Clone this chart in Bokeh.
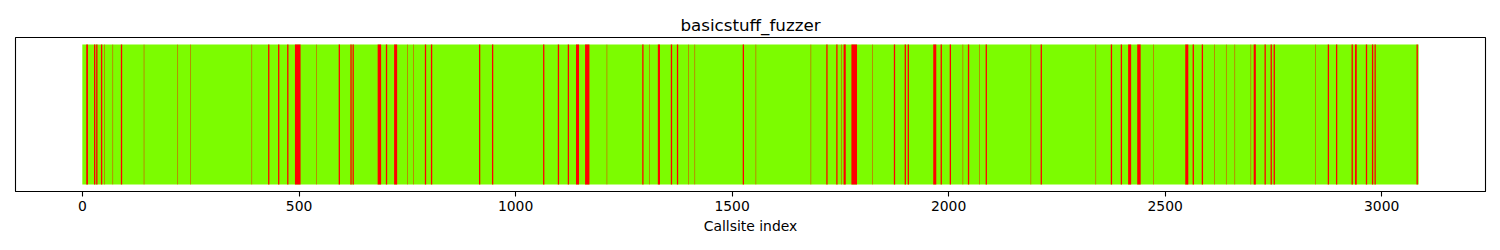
from bokeh.plotting import figure
from bokeh.models import Range1d, FixedTicker, ColumnDataSource
from bokeh.embed import file_html
from bokeh.resources import INLINE

title_text = "basicstuff_fuzzer"
x_label = "Callsite index"
n_callsites = 3086
x_ticks = [0, 500, 1000, 1500, 2000, 2500, 3000]

# runs of "red" callsites (inclusive start/end index)
red_start = [9, 27, 32, 43, 51, 70, 89, 142, 220, 250, 391, 429, 452, 473, 491,
             540, 592, 619, 624, 682, 701, 720, 750, 764, 791, 805, 916, 946,
             1064, 1098, 1121, 1140, 1161, 1211, 1293, 1309, 1329, 1359, 1373,
             1400, 1414, 1525, 1555, 1682, 1718, 1741, 1753, 1758, 1776, 1824,
             1874, 1899, 1906, 1965, 1982, 2003, 2033, 2045, 2071, 2086, 2190,
             2213, 2340, 2375, 2398, 2415, 2436, 2473, 2547, 2564, 2585, 2614,
             2641, 2661, 2698, 2705, 2730, 2744, 2751, 2847, 2876, 2895, 2931,
             2939, 2964, 2978, 2984, 3081]
red_end = [12, 29, 34, 45, 51, 70, 91, 142, 220, 250, 391, 431, 454, 475, 503,
           540, 594, 621, 626, 689, 703, 726, 750, 764, 793, 807, 918, 948,
           1066, 1100, 1123, 1146, 1170, 1211, 1295, 1309, 1333, 1361, 1375,
           1400, 1414, 1527, 1555, 1682, 1720, 1743, 1753, 1762, 1788, 1824,
           1876, 1901, 1908, 1971, 1984, 2005, 2033, 2047, 2071, 2088, 2190,
           2215, 2340, 2377, 2400, 2421, 2443, 2473, 2553, 2566, 2587, 2614,
           2641, 2661, 2698, 2709, 2732, 2746, 2753, 2847, 2878, 2897, 2933,
           2942, 2966, 2980, 2986, 3083]

FONT = "DejaVu Sans"

pad = 0.05 * n_callsites
p = figure(width=1500, height=250, output_backend="svg", toolbar_location=None,
           x_range=Range1d(-0.5 - pad, n_callsites - 0.5 + pad),
           y_range=Range1d(-0.05, 1.05),
           y_axis_location=None,
           min_border_left=15, min_border_right=15, min_border_top=37,
           min_border_bottom=59)

p.title.text = title_text
p.title.align = "center"
p.title.text_font = FONT
p.title.text_font_size = "16.7px"
p.title.text_font_style = "normal"
p.title.text_color = "black"
p.title.standoff = 6

p.grid.visible = False
p.outline_line_color = "black"
p.outline_line_width = 1.1
p.outline_line_alpha = 1.0
p.background_fill_color = "white"
p.border_fill_color = "white"

# base green bars covering all callsites
p.quad(left=[-0.5], right=[n_callsites - 0.5], bottom=[0], top=[1],
       fill_color="#7CFC00", line_color=None)

src = ColumnDataSource(dict(
    left=[s - 0.5 for s in red_start],
    right=[e + 0.5 for e in red_end],
    bottom=[0] * len(red_start),
    top=[1] * len(red_start),
))
p.quad(left="left", right="right", bottom="bottom", top="top", source=src,
       fill_color="#FF0000", line_color=None)

ax = p.xaxis[0]
ax.ticker = FixedTicker(ticks=x_ticks)
ax.minor_tick_line_color = None
ax.major_tick_out = 5
ax.major_tick_in = 0
ax.major_tick_line_width = 1.1
ax.axis_line_width = 1.1
ax.major_label_text_font = FONT
ax.major_label_text_font_size = "13.9px"
ax.major_label_text_color = "black"
ax.major_label_standoff = 4
ax.axis_label = x_label
ax.axis_label_text_font = FONT
ax.axis_label_text_font_size = "13.9px"
ax.axis_label_text_font_style = "normal"
ax.axis_label_text_color = "black"
ax.axis_label_standoff = 4

open("out.html", "w").write(file_html(p, INLINE))
